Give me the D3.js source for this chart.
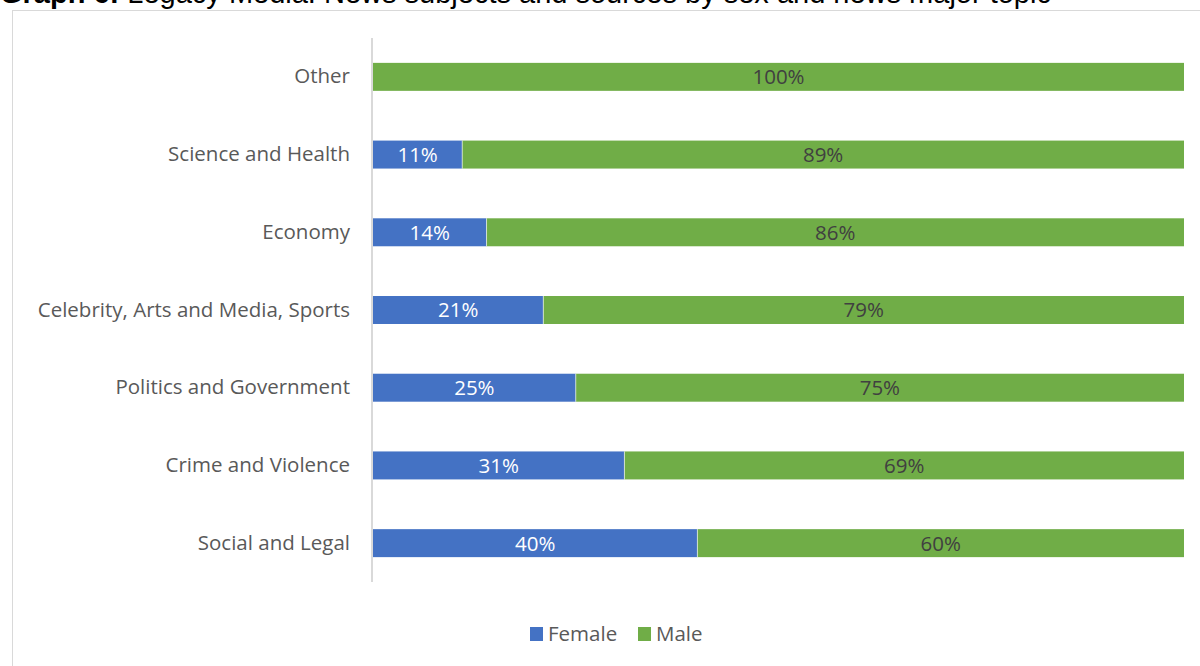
<!DOCTYPE html>
<html><head><meta charset="utf-8">
<script src="https://cdn.jsdelivr.net/npm/d3@7"></script>
<style>body{margin:0;background:#fff;}svg{display:block;}</style>
</head><body>
<svg id="c" width="1200" height="666"></svg>
<script>
const categories = ["Other","Science and Health","Economy","Celebrity, Arts and Media, Sports","Politics and Government","Crime and Violence","Social and Legal"];
const female = [0,11,14,21,25,31,40];
const male = [100,89,86,79,75,69,60];
const seriesNames = ["Female","Male"];
const colors = ["#4472C4","#70AD47"];

const svg = d3.select("#c");
// title (partially cut off at top, as in the reference)
const t = svg.append("text").attr("x",0).attr("y",3).attr("font-family","Liberation Sans, Arial, sans-serif").attr("font-size",29).attr("fill","#000");
t.append("tspan").attr("font-weight","bold").text("Graph 6: ");
t.append("tspan").text("Legacy Media: News subjects and sources by sex and news major topic");

// chart box
svg.append("rect").attr("x",12.5).attr("y",10.5).attr("width",1200).attr("height",670).attr("fill","none").attr("stroke","#d9d9d9");

const x = d3.scaleLinear().domain([0,100]).range([373,1184]);
const y = d3.scaleBand().domain(categories).range([38,582]).paddingInner(0.64).paddingOuter(0.32);

const rows = categories.map((c,i)=>({cat:c, vals:[female[i], male[i]]}));
const font = "Open Sans, Noto Sans, sans-serif";
const fs = 20.5;

rows.forEach(r=>{
  let acc=0;
  r.vals.forEach((v,j)=>{
    if(v>0){
      svg.append("rect").attr("x",x(acc)).attr("y",y(r.cat)).attr("width",x(acc+v)-x(acc)).attr("height",y.bandwidth()).attr("fill",colors[j]);
      svg.append("text").attr("x",(x(acc)+x(acc+v))/2).attr("y",y(r.cat)+y.bandwidth()/2).attr("dy","0.36em")
        .attr("text-anchor","middle").attr("font-family",font).attr("font-size",fs)
        .attr("fill", j===0 ? "#ffffff" : "#404040").text(v+"%");
    }
    acc+=v;
  });
});
rows.forEach(r=>{
  if(r.vals[0]>0) svg.append("line").attr("x1",x(r.vals[0])).attr("x2",x(r.vals[0])).attr("y1",y(r.cat)).attr("y2",y(r.cat)+y.bandwidth()).attr("stroke","#ffffff").attr("stroke-width",1).attr("opacity",0.6);
});

// y axis
const ax = svg.append("g").attr("transform","translate(372,0)").call(d3.axisLeft(y).tickSize(0).tickPadding(22));
ax.select(".domain").remove();
ax.selectAll("text").attr("font-family",font).attr("font-size",fs).attr("fill","#595959");
svg.append("line").attr("x1",372).attr("x2",372).attr("y1",38).attr("y2",582).attr("stroke","#d9d9d9").attr("stroke-width",2);

// legend
const lg = svg.append("g");
const items = [{n:seriesNames[0],c:colors[0],x:530},{n:seriesNames[1],c:colors[1],x:638}];
items.forEach(it=>{
  lg.append("rect").attr("x",it.x).attr("y",627).attr("width",13).attr("height",14).attr("fill",it.c);
  lg.append("text").attr("x",it.x+18).attr("y",634).attr("dy","0.36em").attr("font-family",font).attr("font-size",fs).attr("fill","#595959").text(it.n);
});
</script>
</body></html>
